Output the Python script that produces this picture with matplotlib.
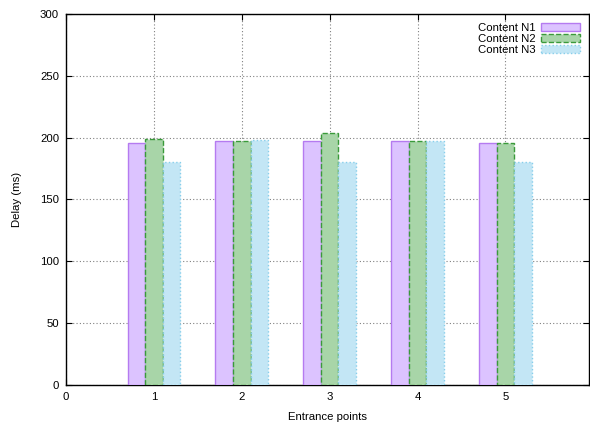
import numpy as np
import matplotlib
matplotlib.use("Agg")
import matplotlib.pyplot as plt

points = [1, 2, 3, 4, 5]
n1 = [196, 197, 197, 197, 196]
n2 = [199, 197, 204, 197, 196]
n3 = [180, 198, 180, 197, 180]
labels = ["Content N1", "Content N2", "Content N3"]

plt.rcParams["font.family"] = ["Liberation Sans", "DejaVu Sans"]

fig = plt.figure(figsize=(5.9, 4.24), dpi=100)
ax = fig.add_axes([0.112, 0.092, 0.886, 0.875])

x = np.array(points)
w = 0.2
styles = [
    dict(color="#dcc3ff", edgecolor="#b57bf0", linestyle="-"),
    dict(color="#a8d5a8", edgecolor="#3a9a3a", linestyle="--"),
    dict(color="#c3e6f5", edgecolor="#87ceeb", linestyle=":"),
]
for i, (vals, st) in enumerate(zip([n1, n2, n3], styles)):
    ax.bar(x + (i - 1) * w, vals, width=w, label=labels[i], linewidth=1.0, zorder=3, **st)

ax.set_xlim(0, 5.95)
ax.set_ylim(0, 300)
ax.set_xticks([0, 1, 2, 3, 4, 5])
ax.set_yticks(range(0, 301, 50))
ax.tick_params(direction="in", top=True, right=True, labelsize=8.2, length=4, pad=5)
ax.grid(True, linestyle=(0, (1, 2)), color="#808080", linewidth=0.8, zorder=0)
ax.set_axisbelow(True)
for s in ax.spines.values():
    s.set_linewidth(1.0)
ax.set_xlabel("Entrance points", fontsize=8.2, labelpad=7)
ax.set_ylabel("Delay (ms)", fontsize=8.2, labelpad=13)
ax.legend(loc="upper right", frameon=False, fontsize=8.2, markerfirst=False,
          handlelength=3.4, handleheight=0.7, labelspacing=0.1, borderaxespad=0.4,
          handletextpad=0.5)

fig.savefig("out.png", dpi=100)
